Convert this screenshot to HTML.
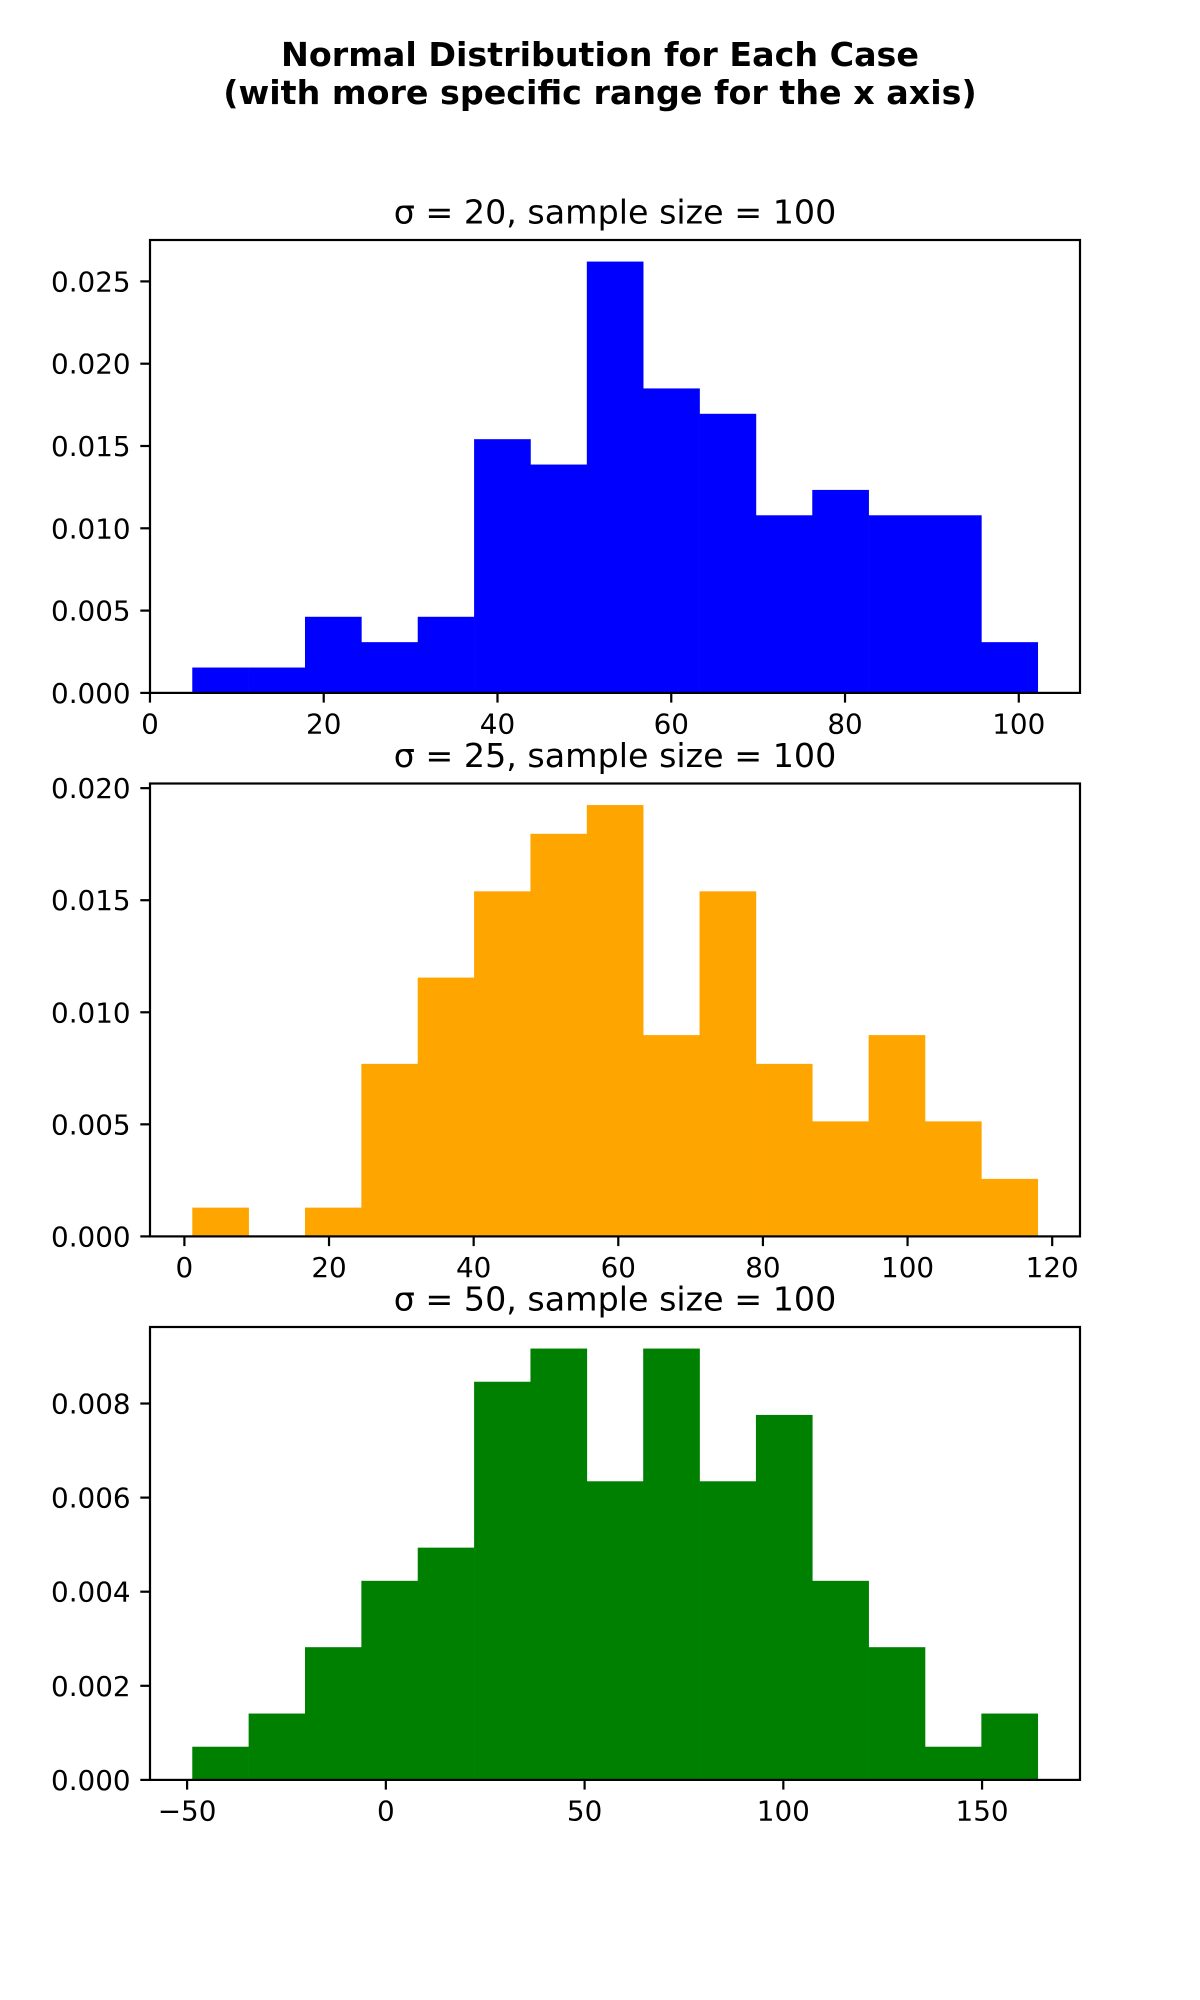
<!DOCTYPE html>
<html>
<head>
<meta charset="utf-8">
<style>
  html, body { margin: 0; padding: 0; background: #fff; }
  svg { display: block; font-family: "DejaVu Sans", "Liberation Sans", sans-serif; }
</style>
</head>
<body>
<svg id="fig" width="1200" height="2000" viewBox="0 0 1200 2000" xmlns="http://www.w3.org/2000/svg">
  <rect x="0" y="0" width="1200" height="2000" fill="#fff"/>
  <text x="600" y="66" text-anchor="middle" font-size="33.3" font-weight="bold">Normal Distribution for Each Case</text>
  <text x="600" y="104" text-anchor="middle" font-size="33.3" font-weight="bold">(with more specific range for the x axis)</text>
</svg>
<script>
// Panel 1 (sigma = 20)
const counts1 = [1, 1, 3, 2, 3, 10, 9, 17, 12, 11, 7, 8, 7, 7, 2];
const binRange1 = [4.87, 102.18];
const xTicks1 = [0, 20, 40, 60, 80, 100];
const yTicks1 = [0, 0.005, 0.010, 0.015, 0.020, 0.025];
const yTickLabels1 = ["0.000", "0.005", "0.010", "0.015", "0.020", "0.025"];

// Panel 2 (sigma = 25)
const counts2 = [1, 0, 1, 6, 9, 12, 14, 15, 7, 12, 6, 4, 7, 4, 2];
const binRange2 = [1.09, 118.0];
const xTicks2 = [0, 20, 40, 60, 80, 100, 120];
const yTicks2 = [0, 0.005, 0.010, 0.015, 0.020];
const yTickLabels2 = ["0.000", "0.005", "0.010", "0.015", "0.020"];

// Panel 3 (sigma = 50)
const counts3 = [1, 2, 4, 6, 7, 12, 13, 9, 13, 9, 11, 6, 4, 1, 2];
const binRange3 = [-48.7, 164.0];
const xTicks3 = [-50, 0, 50, 100, 150];
const yTicks3 = [0, 0.002, 0.004, 0.006, 0.008];
const yTickLabels3 = ["0.000", "0.002", "0.004", "0.006", "0.008"];

const titles = ["σ = 20, sample size = 100", "σ = 25, sample size = 100", "σ = 50, sample size = 100"];
const colors = ["#0000ff", "#ffa500", "#008000"];

const NS = "http://www.w3.org/2000/svg";
const fig = document.getElementById("fig");

function mk(tag, attrs, parent) {
  const el = document.createElementNS(NS, tag);
  for (const k in attrs) el.setAttribute(k, attrs[k]);
  parent.appendChild(el);
  return el;
}

const L = 150, R = 1080, H = 452.9, GAP = 90.6, TOP = 240;

function panel(idx, counts, range, xTicks, yTicks, yLabels) {
  const top = TOP + idx * (H + GAP), bottom = top + H;
  const n = counts.length;
  const w = (range[1] - range[0]) / n;
  const total = counts.reduce((a, b) => a + b, 0);
  const dens = counts.map(c => c / (total * w));
  const span = range[1] - range[0];
  const xmin = range[0] - 0.05 * span, xmax = range[1] + 0.05 * span;
  const ymax = Math.max(...dens) * 1.05;
  const sx = v => L + (v - xmin) / (xmax - xmin) * (R - L);
  const sy = v => bottom - v / ymax * H;

  const g = mk("g", {}, fig);
  
  

  dens.forEach((d, i) => {
    const x0 = sx(range[0] + i * w), x1 = sx(range[0] + (i + 1) * w);
    const r = mk("rect", { x: x0, y: sy(d), width: x1 - x0 + 0.3, height: bottom - sy(d), fill: colors[idx] }, g);
    
    
  });

  const frame = mk("rect", { x: L, y: top, width: R - L, height: H, fill: "none", stroke: "#000", "stroke-width": 2.2 }, g);
  
  

  xTicks.forEach(t => {
    const x = sx(t);
    const tk = mk("line", { x1: x, x2: x, y1: bottom, y2: bottom + 9.7, stroke: "#000", "stroke-width": 2.2 }, g);
    
    
    const tx = mk("text", { x: x, y: bottom + 9.7 + 9.7 + 21, "text-anchor": "middle", "font-size": 27.8 }, g);
    tx.textContent = t < 0 ? "\u2212" + Math.abs(t) : String(t);
    
    
  });

  yTicks.forEach((t, i) => {
    const y = sy(t);
    const tk = mk("line", { x1: L - 9.7, x2: L, y1: y, y2: y, stroke: "#000", "stroke-width": 2.2 }, g);
    
    
    const tx = mk("text", { x: L - 9.7 - 9.7, y: y + 10, "text-anchor": "end", "font-size": 27.8 }, g);
    tx.textContent = yLabels[i];
    
    
  });

  const ti = mk("text", { x: (L + R) / 2, y: top - 16.7, "text-anchor": "middle", "font-size": 33.3 }, g);
  ti.textContent = titles[idx];
  
  
}

panel(0, counts1, binRange1, xTicks1, yTicks1, yTickLabels1);
panel(1, counts2, binRange2, xTicks2, yTicks2, yTickLabels2);
panel(2, counts3, binRange3, xTicks3, yTicks3, yTickLabels3);
</script>
</body>
</html>
